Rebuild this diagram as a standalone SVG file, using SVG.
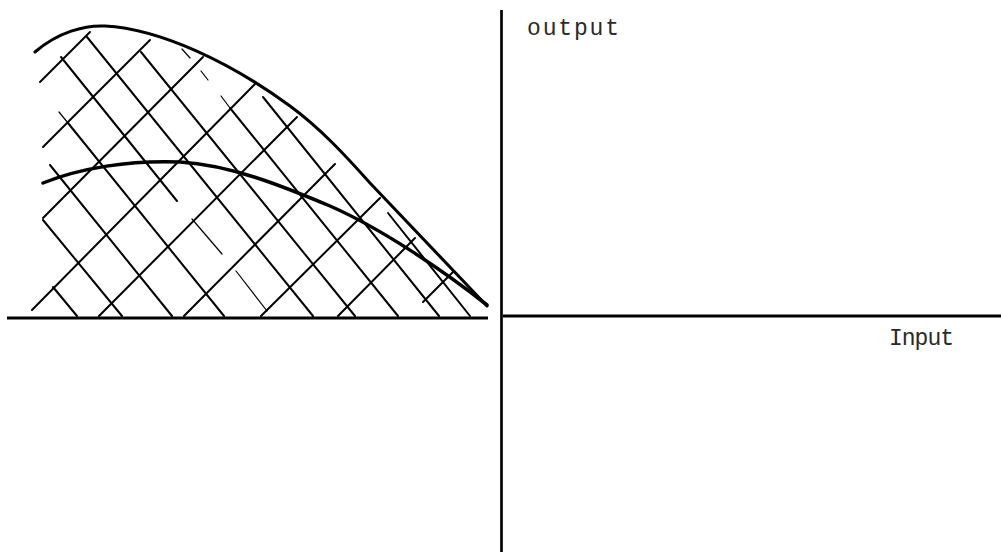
<svg xmlns="http://www.w3.org/2000/svg" width="1002" height="555" viewBox="0 0 1002 555">
<style>
.hatch{stroke:#000;stroke-width:2;fill:none;stroke-linecap:round}
.faint{stroke:#000;stroke-width:1.2;fill:none;stroke-linecap:round}
.curve{stroke:#000;stroke-width:3;fill:none;stroke-linecap:round}
.axis{stroke:#000;fill:none}
.lbl{font-family:"Liberation Mono","DejaVu Sans Mono",monospace;font-size:23px;fill:#2a2a2a}
</style>
<rect width="1002" height="555" fill="#fff"/>
<g id="hatching">
  <g id="hatch-up">
    <line class="hatch" x1="40" y1="82" x2="90" y2="32"/>
    <line class="hatch" x1="43" y1="147" x2="150" y2="40"/>
    <line class="hatch" x1="43" y1="218" x2="203" y2="57"/>
    <line class="hatch" x1="32" y1="310" x2="255" y2="84"/>
    <line class="hatch" x1="99" y1="316" x2="297" y2="117"/>
    <line class="hatch" x1="184" y1="316" x2="335" y2="164"/>
    <line class="hatch" x1="261" y1="316" x2="380" y2="198"/>
    <line class="hatch" x1="338" y1="316" x2="415" y2="238"/>
    <line class="hatch" x1="423" y1="302" x2="453" y2="272"/>
  </g>
  <g id="hatch-down">
    <line class="hatch" x1="53" y1="287" x2="77" y2="316"/>
    <line class="hatch" x1="43" y1="220" x2="122" y2="316"/>
    <line class="hatch" x1="50" y1="165" x2="172" y2="316"/>
    <line class="faint" x1="59" y1="112" x2="68" y2="123"/>
    <line class="hatch" x1="68" y1="123" x2="224" y2="316"/>
    <line class="hatch" x1="61" y1="57" x2="177" y2="201"/>
    <line class="faint" x1="192" y1="219" x2="222" y2="254"/>
    <line class="faint" x1="236" y1="271" x2="267" y2="311"/>
    <line class="hatch" x1="87" y1="37" x2="313" y2="316"/>
    <line class="hatch" x1="141" y1="52" x2="355" y2="316"/>
    <line class="faint" x1="182" y1="49" x2="190" y2="58"/>
    <line class="faint" x1="201" y1="71" x2="208" y2="80"/>
    <line class="faint" x1="221" y1="96" x2="230" y2="108"/>
    <line class="hatch" x1="230" y1="108" x2="398" y2="316"/>
    <line class="hatch" x1="263" y1="97" x2="439" y2="316"/>
    <line class="hatch" x1="388" y1="213" x2="470" y2="316"/>
  </g>
</g>
<g id="curves">
  <path id="outer-curve" class="curve" d="M35,52 C58,32 85,25 105,26 C160,29 230,62 290,106 C320,128 345,155 370,183 L487,306"/>
  <path id="inner-curve" class="curve" style="stroke-width:3.5" d="M43,183 C80,168 130,160 180,162 C230,165 280,185 330,206 C380,228 440,268 487,305"/>
</g>
<g id="axes">
  <line class="axis" x1="7" y1="318" x2="488" y2="318" stroke-width="3"/>
  <line class="axis" x1="503" y1="316" x2="1001" y2="316" stroke-width="3.2"/>
  <line class="axis" x1="501.5" y1="10" x2="501.5" y2="552" stroke-width="2.7"/>
</g>
<g id="labels">
  <text class="lbl" x="527" y="35" textLength="92" lengthAdjust="spacing">output</text>
  <text class="lbl" x="889" y="345" textLength="65" lengthAdjust="spacing">Input</text>
</g>
</svg>
